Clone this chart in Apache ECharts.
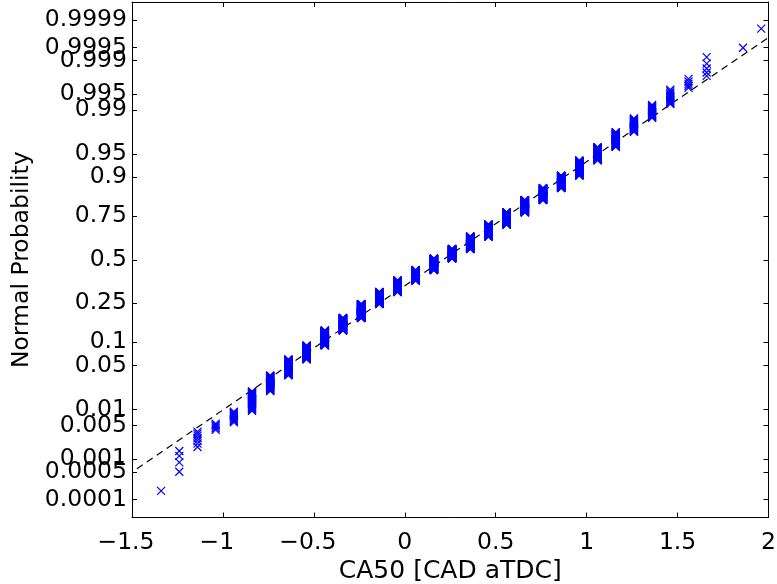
<!DOCTYPE html>
<html><head><meta charset="utf-8">
<script src="https://cdn.jsdelivr.net/npm/echarts@6/dist/echarts.min.js"></script>
<style>html,body{margin:0;padding:0;background:#fff}#c{width:777px;height:584px}</style>
</head><body><div id="c"></div>
<script>
// CA50 values (CAD aTDC) and the number of cycles observed at each value
const caValues = [-1.34,-1.24,-1.14,-1.04,-0.94,-0.84,-0.74,-0.64,-0.54,-0.44,-0.34,-0.24,-0.14,-0.04,0.06,0.16,0.26,0.36,0.46,0.56,0.66,0.76,0.86,0.96,1.06,1.16,1.26,1.36,1.46,1.56,1.66,1.86,1.96];
const caCounts = [1,4,7,5,11,34,47,74,92,133,141,189,187,195,190,213,176,223,201,184,162,132,112,102,65,49,29,18,12,5,5,1,1];
// probability tick values and labels
const probTicks = [0.0001,0.0005,0.001,0.005,0.01,0.05,0.1,0.25,0.5,0.75,0.9,0.95,0.99,0.995,0.999,0.9995,0.9999];
const probLabels = ['0.0001','0.0005','0.001','0.005','0.01','0.05','0.1','0.25','0.5','0.75','0.9','0.95','0.99','0.995','0.999','0.9995','0.9999'];
const xMin = -1.5, xMax = 2, xStep = 0.5;
const zMin = -4, zMax = 4;

// inverse standard normal CDF (Acklam) – probability-axis scale
function norminv(p){
  const a=[-3.969683028665376e+01,2.209460984245205e+02,-2.759285104469687e+02,1.383577518672690e+02,-3.066479806614716e+01,2.506628277459239e+00];
  const b=[-5.447609879822406e+01,1.615858368580409e+02,-1.556989798598866e+02,6.680131188771972e+01,-1.328068155288572e+01];
  const c=[-7.784894002430293e-03,-3.223964580411365e-01,-2.400758277161838e+00,-2.549732539343734e+00,4.374664141464968e+00,2.938163982698783e+00];
  const d=[7.784695709041462e-03,3.224671290700398e-01,2.445134137142996e+00,3.754408661907416e+00];
  const pl=0.02425, ph=1-pl; let q,r;
  if(p<pl){q=Math.sqrt(-2*Math.log(p));return (((((c[0]*q+c[1])*q+c[2])*q+c[3])*q+c[4])*q+c[5])/((((d[0]*q+d[1])*q+d[2])*q+d[3])*q+1);}
  if(p>ph){q=Math.sqrt(-2*Math.log(1-p));return -(((((c[0]*q+c[1])*q+c[2])*q+c[3])*q+c[4])*q+c[5])/((((d[0]*q+d[1])*q+d[2])*q+d[3])*q+1);}
  q=p-0.5;r=q*q;
  return (((((a[0]*r+a[1])*r+a[2])*r+a[3])*r+a[4])*r+a[5])*q/(((((b[0]*r+b[1])*r+b[2])*r+b[3])*r+b[4])*r+1);
}

// sorted sample and normal-probability plotting positions
const sample = [];
caValues.forEach((v,i)=>{ for(let k=0;k<caCounts[i];k++) sample.push(v); });
const n = sample.length;
const points = sample.map((v,i)=>[v, norminv((i+0.5)/n)]);
function prctile(s,pct){ const pos=n*pct/100+0.5; const lo=Math.floor(pos); const f=pos-lo; return s[lo-1]+f*(s[Math.min(lo,n-1)]-s[lo-1]); }
const q1=prctile(sample,25), q3=prctile(sample,75);
const slope=(norminv(0.75)-norminv(0.25))/(q3-q1), cx=(q1+q3)/2;
const refLine=[xMin,xMax].map(x=>[x, slope*(x-cx)]);

const tickZ = probTicks.map(norminv);
function probLabel(v){ let bi=0,bd=1e9; tickZ.forEach((z,i)=>{const d=Math.abs(z-v); if(d<bd){bd=d;bi=i;}}); return probLabels[bi]; }

const FONT = '"DejaVu Sans", Verdana, sans-serif';
const axisLine = {show:true, onZero:false, lineStyle:{color:'#000', width:1}};
const chart = echarts.init(document.getElementById('c'), null, {renderer:'canvas'});
chart.setOption({
  animation:false,
  backgroundColor:'#fff',
  grid:{left:132, right:8.5, top:2, bottom:66.5, containLabel:false, outerBoundsMode:'none'},
  xAxis:[{
    type:'value', min:xMin, max:xMax, interval:xStep, position:'bottom',
    axisLine, splitLine:{show:false},
    axisTick:{show:true, inside:true, length:5, lineStyle:{color:'#000'}},
    axisLabel:{color:'#000', fontFamily:FONT, fontSize:23.5, margin:13,
      formatter:v=>{ const s=String(Math.round(v*10)/10); return v<0 ? '{neg|'+s.replace('-','\u2212')+'}' : s; },
      rich:{neg:{color:'#000', fontFamily:FONT, fontSize:23.5, padding:[0,12,0,0]}}},
    name:'CA50 [CAD aTDC]', nameLocation:'middle', nameGap:33,
    nameTextStyle:{color:'#000', fontFamily:FONT, fontSize:25}
  },{
    type:'value', min:xMin, max:xMax, interval:xStep, position:'top',
    axisLine, splitLine:{show:false},
    axisTick:{show:true, inside:true, length:5, lineStyle:{color:'#000'}},
    axisLabel:{show:false}
  }],
  yAxis:[{
    type:'value', min:zMin, max:zMax, position:'left',
    axisLine, splitLine:{show:false},
    axisTick:{show:true, inside:true, length:5, customValues:tickZ, lineStyle:{color:'#000'}},
    axisLabel:{color:'#000', fontFamily:FONT, fontSize:23.5, margin:5, padding:[5,0,0,0], customValues:tickZ, formatter:probLabel},
    name:'Normal Probability', nameLocation:'middle', nameGap:86, nameRotate:90,
    nameTextStyle:{color:'#000', fontFamily:FONT, fontSize:23.5}
  },{
    type:'value', min:zMin, max:zMax, position:'right',
    axisLine, splitLine:{show:false},
    axisTick:{show:true, inside:true, length:5, customValues:tickZ, lineStyle:{color:'#000'}},
    axisLabel:{show:false}
  }],
  series:[{
    type:'line', data:refLine, xAxisIndex:0, yAxisIndex:0, symbol:'none', silent:true,
    lineStyle:{color:'#000', width:1.2, type:[7,5], dashOffset:6}, z:2
  },{
    type:'scatter', data:points, xAxisIndex:0, yAxisIndex:0, silent:true, large:false,
    symbol:'path://M0,0L10,10M10,0L0,10', symbolSize:8,
    itemStyle:{color:'rgba(0,0,0,0)', borderColor:'#0000ff', borderWidth:1.2, opacity:1}, z:3
  }]
});
</script></body></html>
